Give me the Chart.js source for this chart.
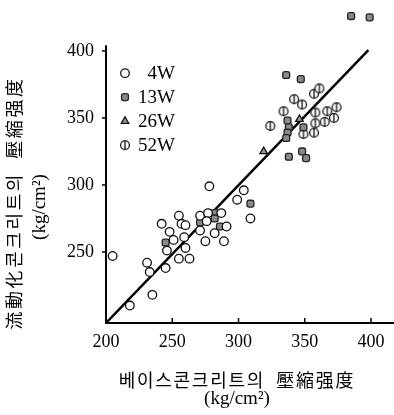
<!DOCTYPE html>
<html>
<head>
<meta charset="utf-8">
<script src="https://cdn.jsdelivr.net/npm/chart.js@4.4.1/dist/chart.umd.min.js"></script>
<style>
  html, body { margin: 0; padding: 0; background: #fff; }
  #wrap { width: 394px; height: 415px; }
</style>
</head>
<body>
<div id="wrap"><canvas id="chart" width="394" height="415"></canvas></div>
<script>
const seriesNames = ['4W', '13W', '26W', '52W'];
const xTicks = [200, 250, 300, 350, 400];
const yTicks = [250, 300, 350, 400];

// [base concrete strength, flowing concrete strength]
const w4 = [
  [205, 247], [278, 299], [304, 296], [299, 289], [309, 275],
  [242, 271], [255, 277], [257, 271], [260, 270], [271, 277],
  [277, 279], [287, 279], [276, 273], [248, 265], [251, 259],
  [259, 261], [271, 266], [282, 264], [291, 269], [275, 258],
  [289, 258], [246, 251], [260, 253], [263, 245], [255, 245],
  [231, 242], [233, 235], [245, 238], [235, 218], [218, 210]
];
const w13 = [
  [385, 426], [399, 425], [336, 382], [347, 379], [309, 286],
  [337, 348], [338, 343], [337, 339], [336, 335], [349, 343],
  [338, 321], [348, 325], [351, 320],
  [245, 257], [271, 272], [282, 279], [282, 275], [286, 269]
];
const w26 = [[319, 325], [346, 349]];
const w52 = [
  [324, 344], [357, 368], [361, 372], [342, 364], [348, 360],
  [334, 355], [358, 354], [367, 355], [374, 358], [372, 350],
  [365, 347], [358, 346], [349, 338], [357, 339]
];
const fitLine = [[200, 197], [398, 400.5]];

const xTitle = '베이스콘크리트의  壓縮强度';
const yTitle = '流動化콘크리트의  壓縮强度';
const unitTitle = '(kg/cm²)';

// drawn axis extent (the plot area is taller so the points above 400 still show)
const xMin = 200, xMax = 416.6;
const yMin = 197, yAxisTop = 404.3, yMax = 432;

const serif = "'Liberation Serif', 'DejaVu Serif', serif";
const cjk = "'Noto Sans CJK KR', 'Noto Sans CJK SC', sans-serif";
const toXY = arr => arr.map(([x, y]) => ({ x, y }));

// circle with a vertical bar for 52W
function makeSplitCircle() {
  const c = document.createElement('canvas');
  c.width = 12; c.height = 12;
  const g = c.getContext('2d');
  g.beginPath();
  g.arc(6, 6, 4.4, 0, Math.PI * 2);
  g.fillStyle = '#fff';
  g.fill();
  g.lineWidth = 1.3;
  g.strokeStyle = '#111';
  g.stroke();
  g.beginPath();
  g.moveTo(6, 1.6);
  g.lineTo(6, 10.4);
  g.stroke();
  return c;
}
const splitCircle = makeSplitCircle();

const markers = [
  { style: 'circle', radius: 4.3, fill: '#fff', stroke: '#111' },
  { style: 'rectRounded', radius: 4, fill: '#8a8a8a', stroke: '#222' },
  { style: 'triangle', radius: 4.3, fill: '#9a9a9a', stroke: '#111' },
  { style: splitCircle, radius: 5, fill: '#fff', stroke: '#111' }
];
const seriesData = [w4, w13, w26, w52];

const pointSets = seriesData.map((pts, i) => ({
  type: 'scatter',
  label: seriesNames[i],
  data: toXY(pts),
  pointStyle: markers[i].style,
  pointRadius: markers[i].radius,
  pointBackgroundColor: markers[i].fill,
  pointBorderColor: markers[i].stroke,
  pointBorderWidth: 1.3,
  clip: false,
  order: 1
}));

const decor = {
  id: 'decor',
  afterDraw(chart) {
    const { ctx, chartArea: a, scales: { x, y } } = chart;
    ctx.save();
    ctx.strokeStyle = '#000';

    // y axis line only up to just above 400
    ctx.lineWidth = 2;
    ctx.beginPath();
    ctx.moveTo(a.left, a.bottom);
    ctx.lineTo(a.left, y.getPixelForValue(yAxisTop));
    ctx.stroke();

    ctx.lineWidth = 1.5;
    xTicks.forEach(v => {
      const px = x.getPixelForValue(v);
      ctx.beginPath();
      ctx.moveTo(px, a.bottom);
      ctx.lineTo(px, a.bottom - 5);
      ctx.stroke();
    });
    yTicks.forEach(v => {
      const py = y.getPixelForValue(v);
      ctx.beginPath();
      ctx.moveTo(a.left, py);
      ctx.lineTo(a.left - 4, py);
      ctx.stroke();
    });

    // legend inside the plot, top left
    const legendTop = y.getPixelForValue(yAxisTop);
    ctx.font = '19px ' + serif;
    ctx.textAlign = 'right';
    ctx.textBaseline = 'middle';
    seriesNames.forEach((name, i) => {
      const m = markers[i];
      const ry = legendTop + 28 + i * 24;
      ctx.fillStyle = m.fill;
      ctx.strokeStyle = m.stroke;
      ctx.lineWidth = 1.3;
      Chart.helpers.drawPoint(ctx, { pointStyle: m.style, radius: m.radius, rotation: 0, borderWidth: 1.3 }, a.left + 19, ry);
      ctx.fillStyle = '#000';
      ctx.fillText(name, a.left + 69, ry + 1);
    });

    // axis titles
    ctx.fillStyle = '#000';
    ctx.textAlign = 'center';
    ctx.font = '18px ' + cjk;
    ctx.letterSpacing = '1.7px';
    ctx.fillText(xTitle, 237, 380);
    ctx.letterSpacing = '0px';
    ctx.font = '19px ' + serif;
    ctx.fillText(unitTitle, 237, 399);

    ctx.save();
    ctx.translate(14, 203);
    ctx.rotate(-Math.PI / 2);
    ctx.font = '18px ' + cjk;
    ctx.letterSpacing = '2.6px';
    ctx.fillText(yTitle, 0, 0);
    ctx.letterSpacing = '0px';
    ctx.restore();

    ctx.save();
    ctx.translate(40, 207);
    ctx.rotate(-Math.PI / 2);
    ctx.font = '19px ' + serif;
    ctx.fillText(unitTitle, 0, 0);
    ctx.restore();
    ctx.restore();
  }
};

new Chart(document.getElementById('chart'), {
  type: 'scatter',
  data: {
    datasets: [
      ...pointSets,
      {
        type: 'line',
        label: 'fit',
        data: toXY(fitLine),
        borderColor: '#000',
        borderWidth: 2.5,
        pointRadius: 0,
        showLine: true,
        fill: false,
        order: 2
      }
    ]
  },
  options: {
    responsive: false,
    animation: false,
    layout: { autoPadding: false, padding: { left: 0, right: 1, top: 8, bottom: 0 } },
    plugins: {
      legend: { display: false },
      tooltip: { enabled: false }
    },
    scales: {
      x: {
        type: 'linear',
        min: xMin,
        max: xMax,
        afterBuildTicks: s => { s.ticks = xTicks.map(v => ({ value: v })); },
        afterFit: s => { s.height = 92; s.paddingLeft = 0; s.paddingRight = 0; },
        grid: { display: false },
        border: { display: true, color: '#000', width: 2 },
        ticks: { font: { family: serif, size: 18 }, color: '#000', padding: 0, maxRotation: 0 }
      },
      y: {
        type: 'linear',
        min: yMin,
        max: yMax,
        afterBuildTicks: s => { s.ticks = yTicks.map(v => ({ value: v })); },
        afterFit: s => { s.width = 106; s.paddingTop = 0; s.paddingBottom = 0; },
        grid: { display: false },
        border: { display: false },
        ticks: { font: { family: serif, size: 18 }, color: '#000', padding: 4 }
      }
    }
  },
  plugins: [decor]
});
</script>
</body>
</html>
